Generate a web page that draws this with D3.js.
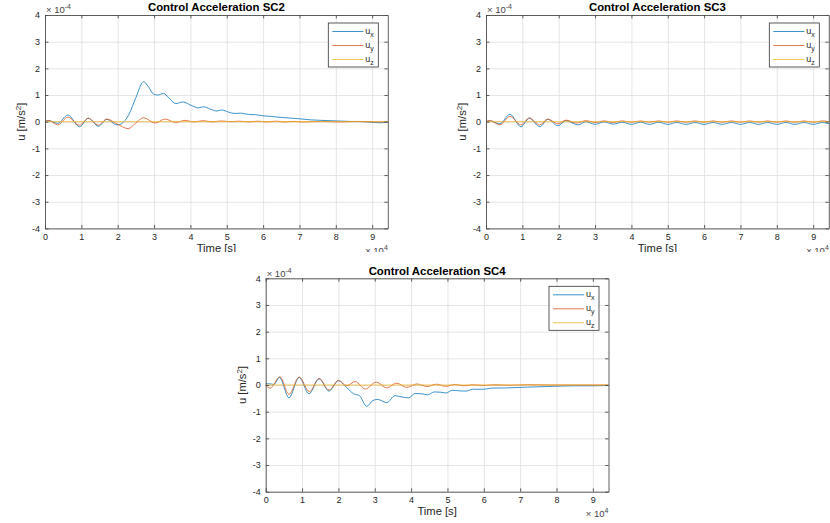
<!DOCTYPE html>
<html lang="en">
<head>
    <meta charset="UTF-8">
    <script src="https://d3js.org/d3.v7.min.js"></script>
    <title>Control Acceleration</title>
    <style>
    body { margin: 0; background: #fff; }
    text { font-family: "Liberation Sans", Arial, Helvetica, sans-serif; fill: #262626; }
    .gridlines line { stroke: #dedede; stroke-width: 0.8; }
    .gridlines .domain { stroke: none; }
    .box .domain, .box line { stroke: #4d4d4d; stroke-width: 0.9; }
    </style>
</head>
<body>
    <svg id="plots" width="830" height="523"></svg>
    <script>
        // time in units of 1e4 s, acceleration in units of 1e-4 m/s^2
        const xTicks = [0, 1, 2, 3, 4, 5, 6, 7, 8, 9];
        const yTicks = [-4, -3, -2, -1, 0, 1, 2, 3, 4];
        const tMax = 9.43;
        const seriesNames = ['x', 'y', 'z'];   // subscripts of u
        const seriesColors = ['#0072BD', '#D95319', '#EDB120'];

        const sc2Ux = [[0,0],[0.1,0.04],[0.35,-0.06],[0.63,0.25],[0.95,-0.19],[1.19,0.13],[1.47,-0.17],[1.7,0.09],
            [1.98,-0.12],[2.1,-0.08],[2.3,0.25],[2.5,0.9],[2.71,1.5],[2.85,1.3],[2.98,1.04],[3.1,1.0],[3.26,1.06],
            [3.4,0.9],[3.6,0.68],[3.79,0.74],[4.04,0.6],[4.22,0.52],[4.36,0.56],[4.55,0.47],[4.73,0.4],[4.86,0.44],
            [5.05,0.36],[5.2,0.31],[5.4,0.32],[5.6,0.27],[5.8,0.26],[6.0,0.22],[6.2,0.2],[6.5,0.16],[6.8,0.13],
            [7.0,0.11],[7.3,0.07],[7.6,0.05],[8.0,0.03],[8.4,0.01],[8.8,0.0],[9.2,-0.04],[9.43,-0.02]];
        const sc2Uy = [[0,0],[0.1,0.05],[0.35,-0.12],[0.63,0.17],[0.95,-0.13],[1.19,0.13],[1.47,-0.13],[1.7,0.1],
            [1.98,-0.08],[2.29,-0.26],[2.5,-0.05],[2.71,0.15],[3.03,-0.05],[3.3,0.1],[3.6,-0.03],[3.85,0.05],
            [4.1,-0.01],[4.35,0.04],[4.6,-0.01],[4.85,0.03],[5.1,0.0],[5.35,0.02],[5.6,-0.01],[5.85,0.02],
            [6.1,-0.01],[6.35,0.02],[6.6,-0.01],[6.85,0.01],[7.1,-0.01],[7.6,0.01],[8.1,-0.01],[8.6,0.01],[9.1,-0.01],[9.43,0.0]];
        const sc2Uz = [[0,0],[9.43,0]];

        const sc3Ux = [[0,0],[0.1,0.03],[0.38,-0.08],[0.66,0.28],[0.96,-0.19],[1.19,0.13],[1.48,-0.19],[1.7,0.09],
            [1.98,-0.15],[2.2,0.04],[2.53,-0.12],[2.75,0.0],[3.0,-0.1],[3.25,-0.01],[3.5,-0.09],[3.75,-0.02],
            [4.0,-0.1],[4.25,-0.02],[4.5,-0.1],[4.75,-0.02],[5.0,-0.1],[5.25,-0.03],[5.5,-0.1],[5.75,-0.03],
            [6.0,-0.1],[6.25,-0.03],[6.5,-0.1],[6.75,-0.03],[7.0,-0.1],[7.25,-0.03],[7.5,-0.1],[7.75,-0.03],
            [8.0,-0.1],[8.25,-0.03],[8.5,-0.1],[8.75,-0.03],[9.0,-0.1],[9.25,-0.03],[9.43,-0.08]];
        const sc3Uy = [[0,0],[0.1,0.05],[0.38,-0.12],[0.66,0.2],[0.96,-0.12],[1.19,0.14],[1.48,-0.12],[1.7,0.1],
            [1.98,-0.08],[2.2,0.06],[2.5,-0.05],[2.75,0.04],[3.0,-0.03],[3.25,0.03],[3.5,-0.03],[3.75,0.03],
            [4.0,-0.02],[4.25,0.03],[4.5,-0.02],[4.75,0.03],[5.0,-0.02],[5.25,0.03],[5.5,-0.02],[5.75,0.03],
            [6.0,-0.02],[6.25,0.03],[6.5,-0.02],[6.75,0.03],[7.0,-0.02],[7.25,0.03],[7.5,-0.02],[7.75,0.03],
            [8.0,-0.02],[8.25,0.03],[8.5,-0.02],[8.75,0.03],[9.0,-0.02],[9.25,0.03],[9.43,0.0]];
        const sc3Uz = [[0,0],[9.43,0]];

        const sc4Ux = [[0,0.05],[0.15,0.04],[0.22,0.02],[0.38,0.28],[0.64,-0.48],[0.92,0.29],[1.19,-0.33],[1.47,0.23],
            [1.74,-0.23],[2.0,0.16],[2.23,-0.1],[2.42,-0.33],[2.58,-0.4],[2.78,-0.8],[2.95,-0.58],[3.08,-0.54],
            [3.33,-0.66],[3.56,-0.4],[3.75,-0.45],[3.93,-0.48],[4.11,-0.32],[4.3,-0.33],[4.45,-0.37],[4.64,-0.26],
            [4.8,-0.27],[4.96,-0.3],[5.13,-0.2],[5.35,-0.22],[5.52,-0.23],[5.68,-0.16],[6.0,-0.16],[6.17,-0.12],
            [6.6,-0.11],[7.2,-0.08],[7.9,-0.05],[8.5,-0.03],[9.0,-0.03],[9.43,-0.02]];
        const sc4Uy = [[0,0],[0.12,-0.12],[0.39,0.31],[0.64,-0.35],[0.92,0.3],[1.2,-0.25],[1.47,0.25],[1.74,-0.19],
            [2.0,0.17],[2.23,-0.03],[2.46,0.13],[2.74,-0.15],[3.04,0.11],[3.33,-0.11],[3.6,0.07],[3.88,-0.09],
            [4.16,0.04],[4.43,-0.06],[4.7,0.03],[4.95,-0.05],[5.2,0.02],[5.45,-0.03],[5.7,0.01],[6.0,-0.02],
            [6.3,0.01],[6.7,-0.01],[7.2,0.01],[8.0,0.0],[9.43,0.0]];
        const sc4Uz = [[0,0],[9.43,0]];

        const panels = [
            {title: 'Control Acceleration SC2', series: [sc2Ux, sc2Uy, sc2Uz], left: 45, top: 15, clip: 252},
            {title: 'Control Acceleration SC3', series: [sc3Ux, sc3Uy, sc3Uz], left: 486, top: 15, clip: 252},
            {title: 'Control Acceleration SC4', series: [sc4Ux, sc4Uy, sc4Uz], left: 265.7, top: 278.3, clip: 523}
        ];
        const plotW = 342.8;
        const plotH = 213.4;

        const svg = d3.select('svg#plots');

        panels.forEach((p, pi) => {
            const right = p.left + plotW;
            const bottom = p.top + plotH;

            svg.append('clipPath').attr('id', `clip${pi}`)
                .append('rect').attr('x', 0).attr('y', 0).attr('width', 830).attr('height', p.clip);
            const g = svg.append('g').attr('clip-path', `url(#clip${pi})`);

            const xScale = d3.scaleLinear().domain([0, tMax]).range([p.left, right]);
            const yScale = d3.scaleLinear().domain([-4, 4]).range([bottom, p.top]);

            // gridlines
            g.append('g').attr('class', 'gridlines')
                .attr('transform', `translate(0,${bottom})`)
                .call(d3.axisBottom(xScale).tickValues(xTicks).tickSize(-plotH).tickFormat(''));
            g.append('g').attr('class', 'gridlines')
                .attr('transform', `translate(${p.left},0)`)
                .call(d3.axisLeft(yScale).tickValues(yTicks).tickSize(-plotW).tickFormat(''));

            // lines
            const line = d3.line()
                .x(d => xScale(d[0]))
                .y(d => yScale(d[1]))
                .curve(d3.curveMonotoneX);
            p.series.forEach((s, i) => {
                g.append('path')
                    .datum(s)
                    .attr('d', line)
                    .attr('fill', 'none')
                    .attr('stroke', seriesColors[i])
                    .attr('stroke-width', 0.9)
                    .attr('stroke-opacity', 0.85);
            });

            // box with inward ticks
            const tickLen = 3.4;
            const bAxis = g.append('g').attr('class', 'box')
                .attr('transform', `translate(0,${bottom})`)
                .call(d3.axisBottom(xScale).tickValues(xTicks).tickSizeInner(-tickLen).tickSizeOuter(0)
                    .tickPadding(4).tickFormat(d => String(d)));
            bAxis.selectAll('text').attr('font-size', 9).attr('dy', '0.85em');
            g.append('g').attr('class', 'box')
                .attr('transform', `translate(0,${p.top})`)
                .call(d3.axisTop(xScale).tickValues(xTicks).tickSizeInner(-tickLen).tickSizeOuter(0).tickFormat(''));
            const lAxis = g.append('g').attr('class', 'box')
                .attr('transform', `translate(${p.left},0)`)
                .call(d3.axisLeft(yScale).tickValues(yTicks).tickSizeInner(-tickLen).tickSizeOuter(0)
                    .tickPadding(5).tickFormat(d => String(d)));
            lAxis.selectAll('text').attr('font-size', 9);
            g.append('g').attr('class', 'box')
                .attr('transform', `translate(${right},0)`)
                .call(d3.axisRight(yScale).tickValues(yTicks).tickSizeInner(-tickLen).tickSizeOuter(0).tickFormat(''));
            g.selectAll('.box text').style('fill', '#262626').style('font-family', '"Liberation Sans", Arial, sans-serif');

            // title
            g.append('text')
                .attr('x', (p.left + right) / 2)
                .attr('y', p.top - 3.8)
                .attr('text-anchor', 'middle')
                .style('font-weight', 'bold')
                .style('font-size', '11.4px')
                .style('fill', '#000')
                .text(p.title);

            // axis labels
            g.append('text')
                .attr('x', (p.left + right) / 2)
                .attr('y', bottom + 23.5)
                .attr('text-anchor', 'middle')
                .style('font-size', '11.2px')
                .text('Time [s]');

            const yl = g.append('text')
                .attr('transform', `translate(${p.left - 20},${(p.top + bottom) / 2}) rotate(-90)`)
                .attr('text-anchor', 'middle')
                .style('font-size', '11.2px');
            yl.append('tspan').text('u [m/s');
            yl.append('tspan').attr('dy', -4).style('font-size', '8px').text('2');
            yl.append('tspan').attr('dy', 4).text(']');

            // exponent labels
            const ey = g.append('text')
                .attr('x', p.left + 1)
                .attr('y', p.top - 1.8)
                .style('font-size', '9.5px')
                .style('fill', '#444');
            ey.append('tspan').text('\u00d7 10');
            ey.append('tspan').attr('dy', -4).style('font-size', '7px').text('-4');

            const ex = g.append('text')
                .attr('x', right)
                .attr('y', bottom + 25.5)
                .attr('text-anchor', 'end')
                .style('font-size', '9.5px')
                .style('fill', '#444');
            ex.append('tspan').text('\u00d7 10');
            ex.append('tspan').attr('dy', -4).style('font-size', '7px').text('4');

            // legend
            const legW = 50, legH = 44;
            const leg = g.append('g')
                .attr('transform', `translate(${right - 9.5 - legW},${p.top + 8})`);
            leg.append('rect')
                .attr('width', legW).attr('height', legH)
                .attr('fill', '#fff')
                .attr('stroke', '#333')
                .attr('stroke-width', 0.8);
            seriesNames.forEach((name, i) => {
                const ry = 8.5 + i * 14;
                leg.append('line')
                    .attr('x1', 4).attr('x2', 35)
                    .attr('y1', ry).attr('y2', ry)
                    .attr('stroke', seriesColors[i])
                    .attr('stroke-width', 0.9)
                    .attr('stroke-opacity', 0.85);
                const t = leg.append('text')
                    .attr('x', 37)
                    .attr('y', ry + 2)
                    .style('font-size', '9px');
                t.append('tspan').text('u');
                t.append('tspan').attr('dy', 3).style('font-size', '7px').text(name);
            });
        });
    </script>
</body>
</html>
